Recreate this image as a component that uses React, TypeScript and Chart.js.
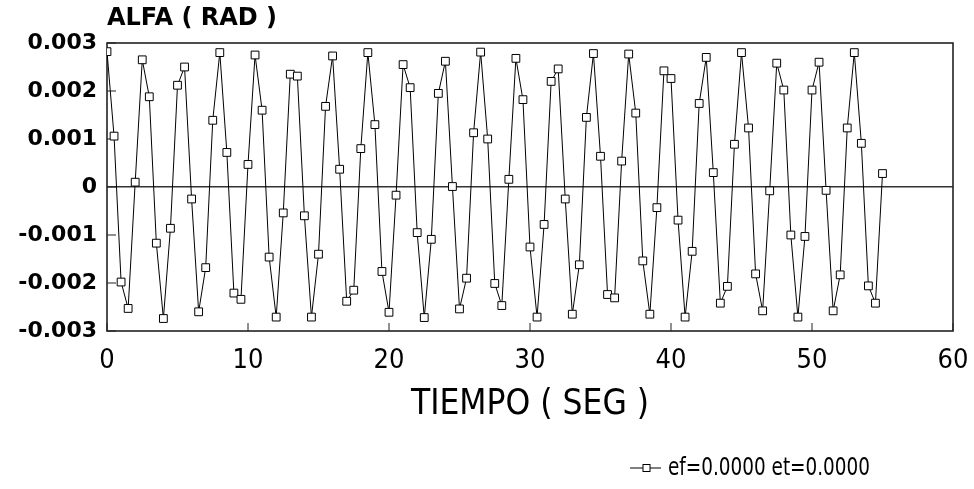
import React, { useEffect, useRef } from 'react';
import { Chart, registerables } from 'chart.js';

Chart.register(...registerables);

const TIEMPO = [
  0, 0.5, 1, 1.5, 2, 2.5, 3, 3.5, 4, 4.5,
  5, 5.5, 6, 6.5, 7, 7.5, 8, 8.5, 9, 9.5,
  10, 10.5, 11, 11.5, 12, 12.5, 13, 13.5, 14, 14.5,
  15, 15.5, 16, 16.5, 17, 17.5, 18, 18.5, 19, 19.5,
  20, 20.5, 21, 21.5, 22, 22.5, 23, 23.5, 24, 24.5,
  25, 25.5, 26, 26.5, 27, 27.5, 28, 28.5, 29, 29.5,
  30, 30.5, 31, 31.5, 32, 32.5, 33, 33.5, 34, 34.5,
  35, 35.5, 36, 36.5, 37, 37.5, 38, 38.5, 39, 39.5,
  40, 40.5, 41, 41.5, 42, 42.5, 43, 43.5, 44, 44.5,
  45, 45.5, 46, 46.5, 47, 47.5, 48, 48.5, 49, 49.5,
  50, 50.5, 51, 51.5, 52, 52.5, 53, 53.5, 54, 54.5,
  55,
];

const ALFA = [
  0.00282, 0.00106, -0.00198, -0.00253, 0.00010, 0.00265, 0.00188, -0.00117, -0.00274, -0.00086,
  0.00212, 0.00250, -0.00025, -0.00260, -0.00168, 0.00139, 0.00280, 0.00072, -0.00221, -0.00234,
  0.00047, 0.00275, 0.00160, -0.00146, -0.00271, -0.00054, 0.00235, 0.00231, -0.00060, -0.00271,
  -0.00140, 0.00168, 0.00273, 0.00037, -0.00238, -0.00215, 0.00080, 0.00280, 0.00130, -0.00176,
  -0.00261, -0.00017, 0.00255, 0.00207, -0.00095, -0.00272, -0.00109, 0.00195, 0.00262, 0.00001,
  -0.00254, -0.00190, 0.00113, 0.00281, 0.00100, -0.00201, -0.00247, 0.00016, 0.00268, 0.00182,
  -0.00125, -0.00271, -0.00078, 0.00220, 0.00246, -0.00025, -0.00265, -0.00162, 0.00145, 0.00278,
  0.00064, -0.00224, -0.00231, 0.00054, 0.00277, 0.00154, -0.00154, -0.00265, -0.00043, 0.00242,
  0.00226, -0.00069, -0.00271, -0.00134, 0.00174, 0.00270, 0.00030, -0.00242, -0.00207, 0.00089,
  0.00280, 0.00123, -0.00181, -0.00258, -0.00008, 0.00258, 0.00202, -0.00100, -0.00271, -0.00103,
  0.00202, 0.00260, -0.00007, -0.00258, -0.00183, 0.00123, 0.00280, 0.00091, -0.00206, -0.00242,
  0.00028,
];

const Y_TITLE = 'ALFA ( RAD )';
const X_TITLE = 'TIEMPO ( SEG )';
const SERIES_LABEL = 'ef=0.0000 et=0.0000';
const Y_MIN = -0.003;
const Y_MAX = 0.003;
const Y_STEP = 0.001;
const X_MIN = 0;
const X_MAX = 60;
const X_STEP = 10;

const WIDE = "'DejaVu Sans', sans-serif";
const NARROW = "'Liberation Sans Narrow', 'DejaVu Sans Condensed', 'Liberation Sans', sans-serif";

const framePlugin = {
  id: 'frame',
  beforeDatasetsDraw(chart: any) {
    const { ctx, chartArea: a, scales } = chart;
    ctx.save();
    ctx.strokeStyle = '#222';
    ctx.lineWidth = 1.6;
    ctx.strokeRect(a.left, a.top, a.right - a.left, a.bottom - a.top);
    ctx.lineWidth = 1;
    ctx.beginPath();
    scales.x.ticks.forEach((t: any) => {
      const px = scales.x.getPixelForValue(t.value);
      ctx.moveTo(px, a.bottom);
      ctx.lineTo(px, a.bottom - 8);
    });
    scales.y.ticks.forEach((t: any) => {
      const py = scales.y.getPixelForValue(t.value);
      ctx.moveTo(a.left, py);
      ctx.lineTo(a.left + 9, py);
    });
    ctx.stroke();
    ctx.restore();
  },
  afterDraw(chart: any) {
    const { ctx } = chart;
    ctx.save();
    ctx.fillStyle = '#000';
    ctx.textAlign = 'left';
    ctx.textBaseline = 'middle';
    ctx.font = `bold 24px ${WIDE}`;
    ctx.fillText(Y_TITLE, chart.chartArea.left, 19);

    // legend
    const ly = 468;
    ctx.strokeStyle = '#000';
    ctx.lineWidth = 1;
    ctx.beginPath();
    ctx.moveTo(630, ly);
    ctx.lineTo(661, ly);
    ctx.stroke();
    ctx.fillStyle = '#fff';
    ctx.fillRect(643, ly - 3.5, 7, 7);
    ctx.strokeRect(643, ly - 3.5, 7, 7);
    ctx.fillStyle = '#000';
    ctx.font = `25px ${NARROW}`;
    const w = ctx.measureText(SERIES_LABEL).width;
    const sx = Math.min(1, 202 / w);
    ctx.translate(668, ly);
    ctx.scale(sx, 1);
    ctx.fillText(SERIES_LABEL, 0, 0);
    ctx.restore();
  },
};

export default function App() {
  const ref = useRef<HTMLCanvasElement | null>(null);

  useEffect(() => {
    if (!ref.current) return;
    const points = TIEMPO.map((t, i) => ({ x: t, y: ALFA[i] }));
    const chart = new Chart(ref.current, {
      type: 'line',
      data: {
        datasets: [
          {
            label: SERIES_LABEL,
            data: points,
            borderColor: '#000',
            borderWidth: 1,
            pointStyle: 'rect',
            pointRadius: 5.5,
            pointBackgroundColor: '#fff',
            pointBorderColor: '#000',
            pointBorderWidth: 1,
            tension: 0,
          },
        ],
      },
      options: {
        animation: false,
        responsive: false,
        layout: { padding: { top: 43, right: 21, left: 0, bottom: 58 } },
        plugins: { legend: { display: false }, tooltip: { enabled: false } },
        scales: {
          x: {
            type: 'linear',
            min: X_MIN,
            max: X_MAX,
            grid: { display: false, drawTicks: false },
            border: { display: false },
            ticks: {
              stepSize: X_STEP,
              padding: 14,
              color: '#000',
              font: { family: NARROW, size: 27 },
              maxRotation: 0,
            },
            title: {
              display: true,
              text: X_TITLE,
              color: '#000',
              font: { family: NARROW, size: 35 },
              padding: { top: 0, bottom: 5 },
            },
            afterFit: (s: any) => {
              s.height = 100;
              s.paddingLeft = 0;
              s.paddingRight = 0;
            },
          },
          y: {
            type: 'linear',
            min: Y_MIN,
            max: Y_MAX,
            grid: {
              drawTicks: false,
              lineWidth: 1.6,
              color: (c: any) => (c.tick && Math.abs(c.tick.value) < 1e-9 ? '#333' : 'rgba(0,0,0,0)'),
            },
            border: { display: false },
            ticks: {
              stepSize: Y_STEP,
              padding: 10,
              color: '#000',
              font: { family: WIDE, size: 22, weight: 'bold' },
              callback: (v: any) => (Math.abs(v) < 1e-9 ? '0' : Number(v).toFixed(3)),
            },
            afterFit: (s: any) => {
              s.width = 107;
            },
          },
        },
      },
      plugins: [framePlugin],
    });
    return () => chart.destroy();
  }, []);

  return (
    <div style={{ position: 'fixed', left: 0, top: 0, width: 974, height: 489, background: '#fff' }}>
      <canvas ref={ref} width={974} height={489} style={{ width: 974, height: 489 }} />
    </div>
  );
}
